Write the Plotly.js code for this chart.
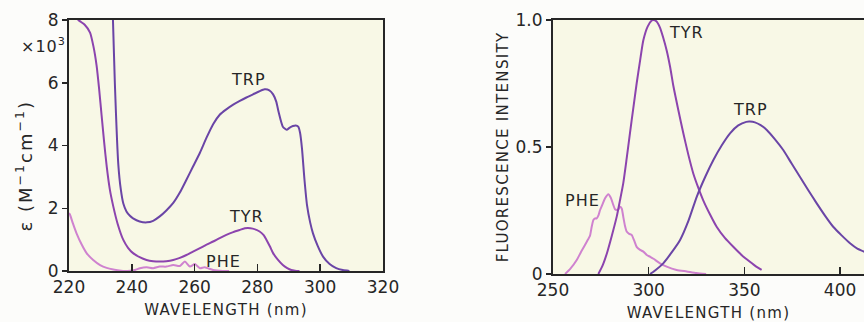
<!DOCTYPE html>
<html>
<head>
<meta charset="utf-8">
<script src="https://cdn.plot.ly/plotly-3.0.1.min.js"></script>
<style>
html,body{margin:0;padding:0;background:#fcfcfa;}
#chart{width:864px;height:322px;}
.xtitle,.x2title,.y2title{letter-spacing:1.3px;}
.annotation-text{letter-spacing:1px;}
.annotation[data-index="7"] .annotation-text{letter-spacing:2px;}
</style>
</head>
<body>
<div id="chart"></div>
<script>
// ---- Absorption (left panel) : wavelength (nm), epsilon (x10^3 M^-1 cm^-1)
const absTrpX = [233.6,234.0,234.6,235.7,236.5,237.3,238.3,239.4,240.4,242.5,244.8,246.8,248.9,251.0,253.2,255.3,257.4,259.5,261.7,263.8,265.9,268.0,270.1,272.3,274.4,276.5,278.6,280.5,282.3,283.8,285.0,286.0,286.8,288.1,289.3,290.3,291.3,292.2,293.0,293.6,294.2,295.0,295.8,296.8,297.7,299.2,300.9,303.0,305.1,307.2,309.3];
const absTrpY = [9.0,8.0,6.0,3.4,2.6,2.15,1.9,1.76,1.68,1.58,1.55,1.6,1.74,1.93,2.17,2.5,2.91,3.33,3.77,4.25,4.68,4.98,5.15,5.3,5.42,5.53,5.63,5.72,5.79,5.76,5.63,5.4,5.05,4.6,4.5,4.57,4.62,4.64,4.6,4.4,3.9,2.9,2.1,1.55,1.2,0.8,0.46,0.22,0.09,0.03,0.0];

const absTyrX = [220.0,221.5,223.0,225.0,226.7,227.8,228.8,229.6,230.4,231.2,232.0,233.0,234.1,235.5,237.3,238.8,240.4,242.5,244.7,246.8,248.9,251.0,253.2,255.3,257.4,259.5,261.7,263.8,265.9,268.0,270.1,272.3,274.4,276.0,277.0,278.5,280.7,282.0,282.9,284.0,285.0,286.5,288.1,289.5,290.8,292.0,293.4];
const absTyrY = [8.3,8.2,8.0,7.85,7.6,7.15,6.54,5.8,4.94,4.1,3.34,2.6,2.06,1.5,0.99,0.74,0.57,0.44,0.35,0.31,0.3,0.31,0.35,0.42,0.51,0.62,0.73,0.84,0.94,1.05,1.15,1.24,1.31,1.36,1.37,1.35,1.26,1.14,0.99,0.78,0.57,0.36,0.19,0.09,0.03,0.01,0.0];

const absPheX = [220.0,220.3,221.3,222.4,224.0,225.6,227.7,229.9,232.0,234.1,236.0,238.0,239.5,241.0,242.6,244.7,246.8,248.9,251.0,253.2,255.3,256.9,258.5,260.1,261.7,263.2,265.9,269.0,271.0];
const absPheY = [1.85,1.8,1.5,1.2,0.85,0.57,0.35,0.19,0.1,0.05,0.02,0.0,0.01,0.03,0.09,0.12,0.09,0.14,0.14,0.19,0.16,0.3,0.14,0.22,0.09,0.12,0.03,0.0,0.0];

// ---- Fluorescence (right panel) : wavelength (nm), relative intensity
const emTyrX = [273.7,276.0,278.1,280.7,283.3,285.0,286.7,288.5,290.2,292.0,293.7,295.5,297.2,299.5,301.6,302.5,304.0,305.9,307.6,309.4,311.2,312.9,315.5,318.1,320.7,323.3,325.9,328.5,332.0,335.5,339.8,344.2,348.5,352.9,356.0,359.0];
const emTyrY = [0.0,0.035,0.08,0.15,0.226,0.29,0.357,0.455,0.554,0.655,0.75,0.84,0.92,0.975,0.998,1.0,0.995,0.97,0.93,0.88,0.815,0.74,0.645,0.554,0.47,0.396,0.34,0.29,0.235,0.186,0.142,0.107,0.075,0.048,0.03,0.016];

const emTrpX = [300.7,303.5,307.6,312.0,316.4,320.8,325.1,329.5,333.8,338.2,342.5,346.8,351.0,352.9,355.5,358.5,361.7,366.0,370.3,374.6,379.0,383.4,387.8,392.1,396.4,400.8,405.2,409.0,412.5,416.0];
const emTrpY = [0.0,0.015,0.042,0.085,0.134,0.21,0.304,0.382,0.449,0.507,0.554,0.585,0.599,0.6,0.597,0.586,0.567,0.53,0.488,0.436,0.383,0.33,0.278,0.23,0.186,0.152,0.121,0.1,0.088,0.072];

const emPheX = [256.3,259.0,262.4,264.5,266.7,268.2,269.3,270.2,271.1,272.0,272.8,273.8,274.6,275.9,277.2,278.9,280.2,281.5,282.4,283.3,284.2,285.0,285.9,286.7,287.6,288.5,289.8,291.1,292.4,293.7,295.5,297.2,299.0,300.7,302.5,305.9,309.4,314.6,319.9,325.0,330.0];
const emPheY = [0.0,0.02,0.055,0.085,0.114,0.135,0.15,0.185,0.213,0.219,0.219,0.232,0.252,0.275,0.298,0.314,0.3,0.272,0.255,0.252,0.255,0.265,0.258,0.226,0.19,0.167,0.158,0.154,0.132,0.107,0.095,0.088,0.075,0.068,0.06,0.042,0.029,0.016,0.01,0.004,0.0];

const absXTicks = [220,240,260,280,300,320];
const absYTicks = [0,2,4,6,8];
const absYTickText = ['0','2','4','6','8'];
const emXTicks = [250,300,350,400];
const emYTicks = [0,0.5,1.0];
const emYTickText = ['0','0.5','1.0'];

const cTrp = '#6a45a6';
const cTyr = '#8c44ae';
const cPhe = '#cf82cf';
const ink = '#262626';
const W = 864, H = 322;
const FAM = 'DejaVu Sans, Liberation Sans, sans-serif';

function line(x, y, color, xa, ya){
  return {x:x, y:y, xaxis:xa, yaxis:ya, mode:'lines', type:'scatter',
          line:{color:color, width:2, shape:'spline', smoothing:0.6}, hoverinfo:'skip', showlegend:false};
}

const data = [
  line(absPheX, absPheY, cPhe, 'x', 'y'),
  line(absTyrX, absTyrY, cTyr, 'x', 'y'),
  line(absTrpX, absTrpY, cTrp, 'x', 'y'),
  line(emPheX, emPheY, cPhe, 'x2', 'y2'),
  line(emTyrX, emTyrY, cTyr, 'x2', 'y2'),
  line(emTrpX, emTrpY, cTrp, 'x2', 'y2')
];

const tickFont = {family:FAM, size:17, color:ink};
const titleFont = {family:FAM, size:15, color:ink};
const lblFont = {family:FAM, size:16, color:ink};

const layout = {
  width:W, height:H,
  margin:{l:0, r:0, t:0, b:0},
  paper_bgcolor:'#fcfcfa',
  plot_bgcolor:'#f8f8e6',
  showlegend:false,
  xaxis:{domain:[69/W, 383/W], range:[220,320], tickvals:absXTicks, ticktext:absXTicks.map(String),
         showline:true, linecolor:ink, linewidth:2, mirror:true, ticks:'inside', ticklen:7, tickwidth:1.5, tickcolor:ink,
         showgrid:false, zeroline:false, tickfont:tickFont, automargin:false, anchor:'y',
         title:{text:'WAVELENGTH (nm)', font:titleFont, standoff:8}},
  yaxis:{domain:[1-271/H, 1-20/H], range:[0,8], tickvals:absYTicks, ticktext:absYTickText,
         showline:true, linecolor:ink, linewidth:2, mirror:true, ticks:'outside', ticklen:5, tickwidth:1.5, tickcolor:ink,
         showgrid:false, zeroline:false, tickfont:tickFont, automargin:false, anchor:'x'},
  xaxis2:{domain:[553/W, 1], range:[250, 412.5], tickvals:emXTicks, ticktext:emXTicks.map(String),
         showline:true, linecolor:ink, linewidth:2, mirror:true, ticks:'inside', ticklen:7, tickwidth:1.5, tickcolor:ink,
         showgrid:false, zeroline:false, tickfont:tickFont, automargin:false, anchor:'y2',
         title:{text:'WAVELENGTH (nm)', font:titleFont, standoff:8}},
  yaxis2:{domain:[1-274/H, 1-20/H], range:[0,1], tickvals:emYTicks, ticktext:emYTickText,
         showline:true, linecolor:ink, linewidth:2, mirror:false, ticks:'outside', ticklen:5, tickwidth:1.5, tickcolor:ink,
         showgrid:false, zeroline:false, tickfont:tickFont, automargin:false, anchor:'x2',
         title:{text:'FLUORESCENCE INTENSITY', font:titleFont, standoff:3}},
  annotations:[
    {xref:'x', yref:'y', x:277.2, y:6.11, text:'TRP', showarrow:false, font:lblFont},
    {xref:'x', yref:'y', x:276.6, y:1.73, text:'TYR', showarrow:false, font:lblFont},
    {xref:'x', yref:'y', x:269.1, y:0.3, text:'PHE', showarrow:false, font:lblFont},
    {xref:'x2', yref:'y2', x:319.9, y:0.949, text:'TYR', showarrow:false, font:lblFont},
    {xref:'x2', yref:'y2', x:353.4, y:0.646, text:'TRP', showarrow:false, font:lblFont},
    {xref:'x2', yref:'y2', x:265.2, y:0.291, text:'PHE', showarrow:false, font:lblFont},
    {xref:'paper', yref:'paper', x:43/W, y:1-46/H, xanchor:'center', yanchor:'middle', text:'×10<sup>3</sup>', showarrow:false, font:{family:FAM, size:16, color:ink}},
    {xref:'paper', yref:'paper', x:24/W, y:1-166/H, xanchor:'center', yanchor:'middle', text:'ε (M<sup>−1</sup>cm<sup>−1</sup>)', textangle:-90, showarrow:false, font:{family:FAM, size:18, color:ink}}
  ]
};

Plotly.newPlot('chart', data, layout, {staticPlot:true, displayModeBar:false});
</script>
</body>
</html>
